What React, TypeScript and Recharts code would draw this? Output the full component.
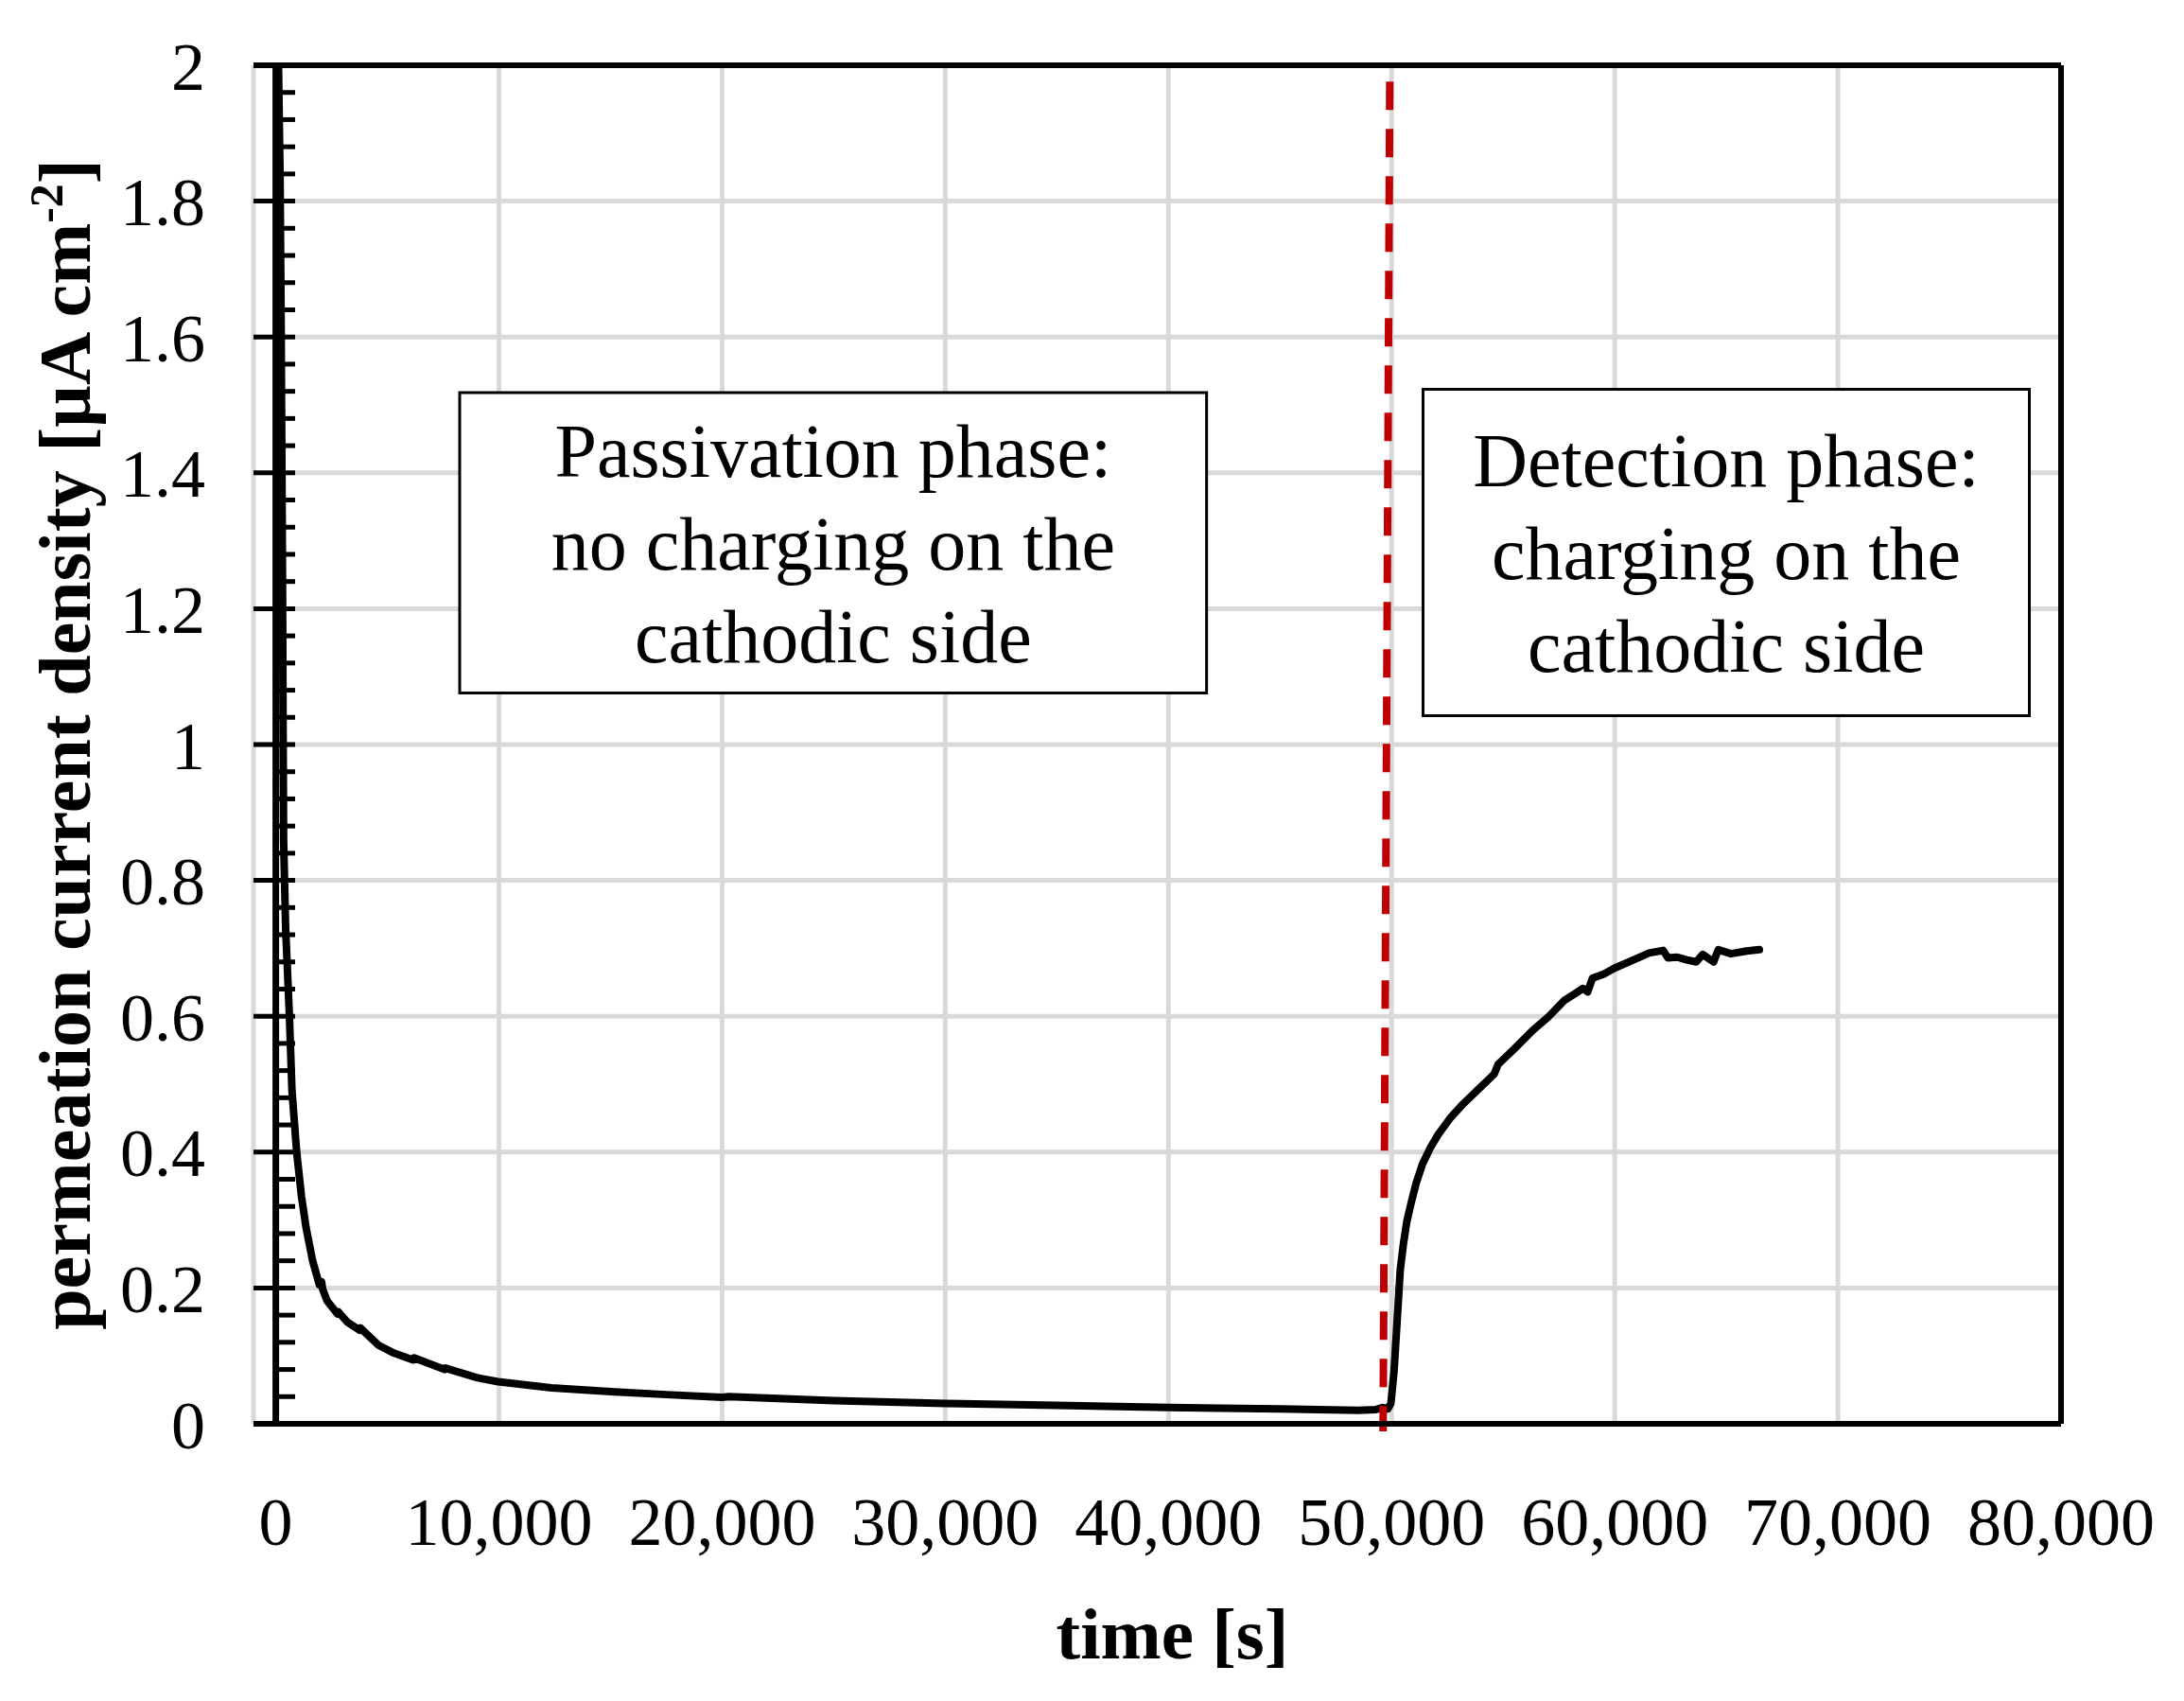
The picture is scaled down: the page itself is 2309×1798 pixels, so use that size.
import React from 'react';
import {
  LineChart,
  Line,
  XAxis,
  YAxis,
  CartesianGrid,
  ReferenceLine,
  ReferenceArea
} from 'recharts';

// passivation phase (no charging)
const passivationTime = [
  120, 190, 235, 270, 300, 325, 350, 440, 610, 725, 935, 1150, 1350, 1650, 1950, 2050, 2100,
  2300, 2760, 2800, 3200, 3750, 3790, 4590, 5300, 6150, 6200, 7000, 7560, 7600, 9000,
  9960, 12350, 15190, 17500, 20000, 20300, 25000, 30000, 35000, 40000, 45000, 48500,
  49300, 49600, 49830
];
const passivationCurrent = [
  2.0, 1.84, 1.64, 1.43, 1.25, 1.04, 0.86, 0.73, 0.6, 0.49, 0.4, 0.335, 0.29, 0.24, 0.205, 0.209, 0.198,
  0.181, 0.162, 0.165, 0.15, 0.138, 0.141, 0.116, 0.104, 0.094, 0.097, 0.087, 0.08, 0.082, 0.068,
  0.062, 0.053, 0.047, 0.043, 0.039, 0.04, 0.034, 0.03, 0.027, 0.024, 0.022, 0.02,
  0.021, 0.024, 0.022
];

// detection phase (charging on the cathodic side)
const detectionTime = [
  49970, 50110, 50250, 50390, 50540, 50680, 50890, 51100, 51380, 51730, 52090, 52650, 53210,
  53780, 54410, 54600, 54770, 55470, 56320, 57020, 57730, 58300, 58570, 58790, 59000, 59500,
  60000, 60840, 61540, 62170, 62380, 62800, 63230, 63650, 63940, 64430, 64640, 65210, 65910, 66480
];
const detectionCurrent = [
  0.03, 0.077, 0.152, 0.227, 0.267, 0.297, 0.327, 0.354, 0.382, 0.406, 0.426, 0.451, 0.471,
  0.489, 0.509, 0.515, 0.529, 0.551, 0.579, 0.599, 0.623, 0.635, 0.641, 0.636, 0.656, 0.662,
  0.671, 0.683, 0.693, 0.697, 0.686, 0.687, 0.683, 0.68, 0.691, 0.68, 0.698, 0.692, 0.696, 0.698
];

const xTicks = [0, 10000, 20000, 30000, 40000, 50000, 60000, 70000, 80000];
const yTicks = [0, 0.2, 0.4, 0.6, 0.8, 1, 1.2, 1.4, 1.6, 1.8, 2];

const passivationLines = ['Passivation phase:', 'no charging on the', 'cathodic side'];
const detectionLines = ['Detection phase:', 'charging on the', 'cathodic side'];

const FONT = '"Liberation Serif", "Times New Roman", serif';

const data = [
  ...passivationTime.map((t, i) => ({ t, j: passivationCurrent[i] })),
  ...detectionTime.map((t, i) => ({ t, j: detectionCurrent[i] }))
];

// 4 minor ticks between every pair of major ticks
const minorTicks = yTicks.slice(0, -1).flatMap((v, i) =>
  [1, 2, 3, 4].map(k => v + ((yTicks[i + 1] - v) * k) / 5)
);

const BoxText = (props: any) => {
  const { viewBox, lines } = props;
  const cx = viewBox.x + viewBox.width / 2;
  const cy = viewBox.y + viewBox.height / 2 + 28;
  return (
    <text textAnchor="middle" fontFamily={FONT} fontSize={80} fill="#000">
      {lines.map((l: string, i: number) => (
        <tspan key={i} x={cx} y={cy + (i - 1) * 98}>{l}</tspan>
      ))}
    </text>
  );
};

const XTitle = (props: any) => {
  const { viewBox } = props;
  return (
    <text x={viewBox.x + viewBox.width / 2 + 16} y={viewBox.y + 248} textAnchor="middle"
      fontFamily={FONT} fontWeight="bold" fontSize={77} fill="#000">
      time [s]
    </text>
  );
};

const YTitle = (props: any) => {
  const { viewBox } = props;
  const x = 95;
  const y = viewBox.y + viewBox.height / 2;
  return (
    <text x={x} y={y} transform={`rotate(-90, ${x}, ${y})`} textAnchor="middle"
      fontFamily={FONT} fontWeight="bold" fontSize={78} fill="#000">
      permeation current density [µA cm
      <tspan dy={-29} fontSize={50}>-2</tspan>
      <tspan dy={29}>]</tspan>
    </text>
  );
};

export default function App() {
  return (
    <div style={{ position: 'absolute', left: 0, top: 0, width: 2309, height: 1798, background: '#fff' }}>
      <LineChart width={2309} height={1798} data={data}
        margin={{ top: 69, right: 130, bottom: 0, left: 0 }}>
        <CartesianGrid stroke="#d9d9d9" strokeWidth={5} />
        <XAxis
          type="number"
          dataKey="t"
          domain={[-1000, 80000]}
          ticks={xTicks}
          interval={0}
          allowDataOverflow
          height={293}
          tickLine={false}
          tickSize={0}
          tickMargin={77}
          axisLine={{ stroke: '#000', strokeWidth: 6 }}
          tick={{ fontSize: 72, fill: '#000', fontFamily: FONT }}
          tickFormatter={(v: number) => v.toLocaleString('en-US')}
          label={{ content: <XTitle /> }}
        />
        <YAxis
          type="number"
          domain={[0, 2]}
          ticks={yTicks}
          interval={0}
          allowDataOverflow
          width={268}
          axisLine={false}
          tickLine={false}
          tickSize={0}
          tickMargin={51}
          tick={{ fontSize: 72, fill: '#000', fontFamily: FONT }}
          tickFormatter={(v: number) => String(Number(v.toFixed(1)))}
          label={{ content: <YTitle /> }}
        />
        <ReferenceArea x1={8240} x2={41710} y1={1.076} y2={1.518} fill="#fff" fillOpacity={1}
          stroke="#000" strokeWidth={3} ifOverflow="visible"
          label={<BoxText lines={passivationLines} />} />
        <ReferenceArea x1={51410} x2={78580} y1={1.0425} y2={1.523} fill="#fff" fillOpacity={1}
          stroke="#000" strokeWidth={3} ifOverflow="visible"
          label={<BoxText lines={detectionLines} />} />
        {yTicks.map(v => (
          <ReferenceLine key={`maj${v}`} segment={[{ x: -1000, y: v }, { x: 864, y: v }]}
            stroke="#000" strokeWidth={5} ifOverflow="visible" />
        ))}
        {minorTicks.map(v => (
          <ReferenceLine key={`min${v}`} segment={[{ x: 0, y: v }, { x: 864, y: v }]}
            stroke="#000" strokeWidth={5} ifOverflow="visible" />
        ))}
        <ReferenceLine x={0} stroke="#000" strokeWidth={7} />
        <ReferenceLine y={2} stroke="#000" strokeWidth={6} />
        <ReferenceLine x={80000} stroke="#000" strokeWidth={6} />
        <Line
          type="linear"
          dataKey="j"
          stroke="#000"
          strokeWidth={8}
          strokeLinejoin="round"
          strokeLinecap="round"
          dot={false}
          activeDot={false}
          isAnimationActive={false}
        />
        <ReferenceLine segment={[{ x: 49920, y: 1.976 }, { x: 49620, y: -0.011 }]}
          stroke="#C00000" strokeWidth={8} strokeDasharray="30 20" ifOverflow="visible" />
      </LineChart>
    </div>
  );
}
